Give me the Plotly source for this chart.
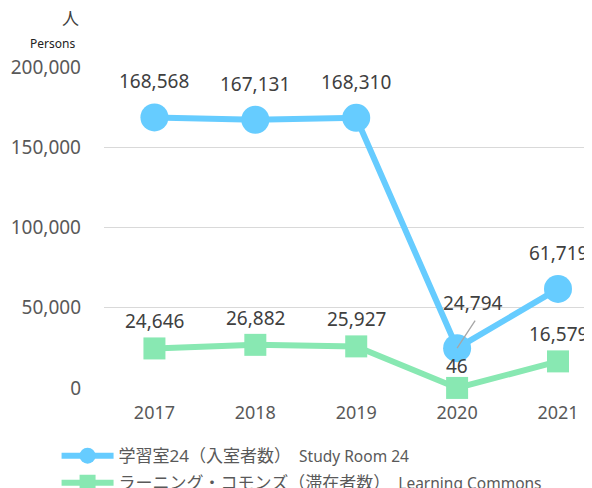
import plotly.graph_objects as go

years = ["2017", "2018", "2019", "2020", "2021"]
study_room = [168568, 167131, 168310, 24794, 61719]
learning_commons = [24646, 26882, 25927, 46, 16579]
y_ticks = [0, 50000, 100000, 150000, 200000]
name_study = "学習室24（入室者数）<span style='font-size:15.5px'>&nbsp;&nbsp;Study Room 24</span>"
name_lc = "ラーニング・コモンズ（滞在者数）<span style='font-size:15.5px'>&nbsp;&nbsp;Learning Commons</span>"

BLUE = "#66CCFF"
GREEN = "#88E8B2"
FONT = "Noto Sans, Noto Sans CJK JP"
TXT = "#404040"

fig = go.Figure()
fig.add_trace(go.Scatter(
    x=years, y=study_room, name=name_study, mode="lines+markers", legendgroup="a",
    line=dict(color=BLUE, width=6), marker=dict(size=28, color=BLUE, symbol="circle"),
    cliponaxis=False))
fig.add_trace(go.Scatter(
    x=years, y=learning_commons, name=name_lc, mode="lines+markers", legendgroup="b",
    line=dict(color=GREEN, width=6), marker=dict(size=22, color=GREEN, symbol="square"),
    cliponaxis=False))

# data labels (x given as category index)
for i, (yr, v) in enumerate(zip(years, study_room)):
    if yr == "2020":
        fig.add_annotation(x=i, y=v, text=f"{v:,}", showarrow=False, xshift=16, yshift=45,
                           font=dict(size=19, color=TXT, family=FONT))
        fig.add_annotation(x=i, y=v, ax=19, ay=-29, axref="pixel", ayref="pixel",
                           text="", showarrow=True, arrowhead=0, arrowwidth=1.3,
                           arrowcolor="#A6A6A6", standoff=0, startstandoff=0)
    else:
        fig.add_annotation(x=i, y=v, text=f"{v:,}", showarrow=False, yshift=36,
                           font=dict(size=19, color=TXT, family=FONT))
for i, (yr, v) in enumerate(zip(years, learning_commons)):
    fig.add_annotation(x=i, y=v, text=f"{v:,}", showarrow=False,
                       yshift=22 if yr == "2020" else 27,
                       font=dict(size=19, color=TXT, family=FONT))

# unit labels
fig.add_annotation(xref="paper", yref="paper", x=-0.0686, y=1.1526, text="人", showarrow=False,
                   xanchor="center", yanchor="middle",
                   font=dict(size=17, color=TXT, family=FONT))
fig.add_annotation(xref="paper", yref="paper", x=-0.1054, y=1.0717, text="Persons", showarrow=False,
                   xanchor="center", yanchor="middle",
                   font=dict(size=12, color="#222", family=FONT))

fig.update_layout(
    width=584, height=480,
    margin=dict(l=95.5, r=0, t=59, b=100, autoexpand=False),
    paper_bgcolor="white", plot_bgcolor="white",
    font=dict(family=FONT, color="#595959"),
    showlegend=True,
    legend=dict(orientation="v", x=-0.0972, y=-0.156, xanchor="left", yanchor="top",
                font=dict(size=17, color="#595959", family=FONT), itemwidth=52,
                tracegroupgap=2, bgcolor="rgba(0,0,0,0)"),
    xaxis=dict(type="category", range=[-0.5, 4.337], showgrid=False, showline=False,
               ticks="", tickfont=dict(size=18, color="#595959"), ticklabelstandoff=12,
               fixedrange=True),
    yaxis=dict(range=[0, 200000], tickvals=y_ticks, tickformat=",d", showgrid=True,
               gridcolor="#D9D9D9", gridwidth=1, zeroline=False, showline=False,
               ticks="", tickfont=dict(size=19, color="#595959"), ticklabelstandoff=22),
)
fig.write_html("out.html")
